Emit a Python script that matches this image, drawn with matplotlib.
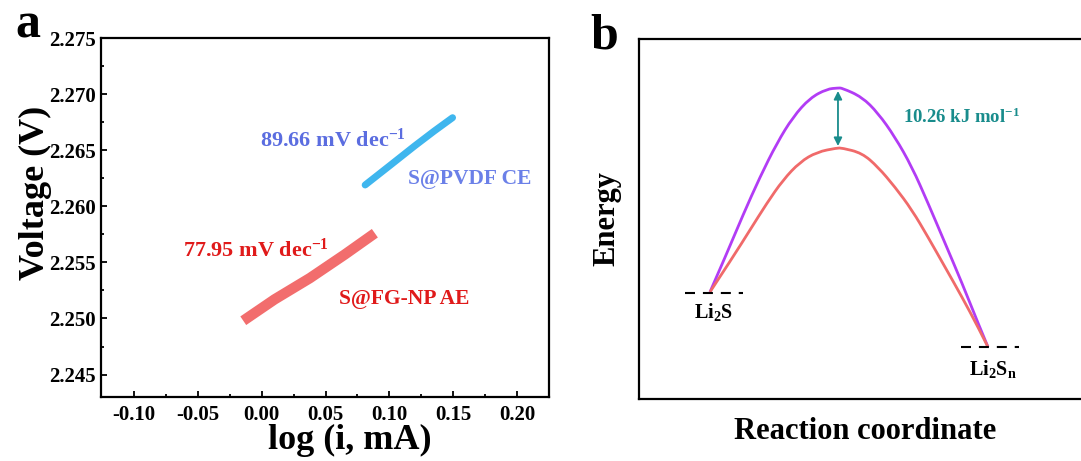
import matplotlib
matplotlib.use("Agg")
import matplotlib.pyplot as plt
from matplotlib.path import Path
from matplotlib.patches import PathPatch

plt.rcParams['font.family'] = ['Liberation Serif', 'DejaVu Serif']
plt.rcParams['font.weight'] = 'bold'
plt.rcParams['axes.labelweight'] = 'bold'
plt.rcParams['mathtext.fontset'] = 'custom'
plt.rcParams['mathtext.rm'] = 'Liberation Serif:bold'
plt.rcParams['mathtext.it'] = 'Liberation Serif:bold'
plt.rcParams['mathtext.bf'] = 'Liberation Serif:bold'
plt.rcParams['mathtext.default'] = 'rm'

# ---- panel a: Tafel lines ----
pvdf_x = [0.081, 0.100, 0.120, 0.135, 0.1495]
pvdf_v = [2.2619, 2.2636, 2.2654, 2.2667, 2.2679]
fgnp_x = [-0.0145, 0.010, 0.0377, 0.065, 0.0886]
fgnp_v = [2.2498, 2.2517, 2.2536, 2.2557, 2.2576]
a_xticks = [-0.10, -0.05, 0.00, 0.05, 0.10, 0.15, 0.20]
a_yticks = [2.245, 2.250, 2.255, 2.260, 2.265, 2.270, 2.275]

# ---- panel b: energy profile (arbitrary units) ----
barrier_hi_x = [71, 88, 104, 121, 138, 154, 171, 188, 199, 203, 223, 239, 256, 273, 289, 306, 323, 339, 349]
barrier_hi_y = [107, 146, 184, 222, 256, 282, 301, 310, 311, 311, 302, 286, 262, 232, 196, 156, 116, 76, 52]
barrier_lo_x = [71, 94, 111, 128, 144, 161, 178, 198, 203, 223, 239, 256, 273, 289, 306, 323, 339, 349]
barrier_lo_y = [107, 142, 169, 196, 219, 237, 247, 251, 251, 246, 232, 212, 189, 162, 132, 102, 72, 52]
li2s_level = 106
li2sn_level = 52
gap_x = 199
gap_top = 308
gap_bottom = 253


def smooth_path(xs, ys):
    # quadratic bezier through the read points (used as control points)
    pts = list(zip(xs, ys))
    verts = [pts[0]]
    codes = [Path.MOVETO]
    for i in range(1, len(pts) - 1):
        nxt = pts[i + 1]
        end = nxt if i == len(pts) - 2 else ((pts[i][0] + nxt[0]) / 2, (pts[i][1] + nxt[1]) / 2)
        verts += [pts[i], end]
        codes += [Path.CURVE3, Path.CURVE3]
    return Path(verts, codes)


fig = plt.figure(figsize=(10.81, 4.61), dpi=100)

ax1 = fig.add_axes([0.0934, 0.1388, 0.4144, 0.7787])
ax1.plot(pvdf_x, pvdf_v, color='#3fb6ee', lw=5, solid_capstyle='round')
ax1.plot(fgnp_x, fgnp_v, color='#f26d6d', lw=7.5, solid_capstyle='butt')
ax1.set_xlim(-0.126, 0.225)
ax1.set_ylim(2.243, 2.275)
ax1.set_xticks(a_xticks)
ax1.set_xticklabels([f'{t:.2f}' for t in a_xticks])
ax1.set_yticks(a_yticks)
ax1.set_yticklabels([f'{t:.3f}' for t in a_yticks])
ax1.set_xticks([-0.075, -0.025, 0.025, 0.075, 0.125, 0.175], minor=True)
ax1.set_yticks([2.2475, 2.2525, 2.2575, 2.2625, 2.2675, 2.2725], minor=True)
ax1.tick_params(which='both', direction='in', width=1.3, labelsize=15)
ax1.tick_params(which='major', length=4)
ax1.tick_params(which='minor', length=2.5)
ax1.tick_params(axis='x', pad=6)
ax1.tick_params(axis='y', pad=4)
for s in ax1.spines.values():
    s.set_linewidth(1.6)
ax1.set_xlabel('log (i, mA)', fontsize=26)
ax1.xaxis.set_label_coords(0.556, -0.075)
ax1.set_ylabel('Voltage (V)', fontsize=26)
ax1.yaxis.set_label_coords(-0.11, 0.57)

ax1.text(-0.0015, 2.26529, r'89.66 mV dec$^{-1}$', color='#5b6de0', fontsize=16, va='baseline')
ax1.text(0.1145, 2.26203, 'S@PVDF CE', color='#6b80e8', fontsize=15.5, va='baseline')
ax1.text(-0.0618, 2.25547, r'77.95 mV dec$^{-1}$', color='#e01a1a', fontsize=16, va='baseline')
ax1.text(0.0604, 2.25125, 'S@FG-NP AE', color='#e01a1a', fontsize=15.5, va='baseline')

ax2 = fig.add_axes([0.5911, 0.1345, 0.4172, 0.7809])
ax2.add_patch(PathPatch(smooth_path(barrier_hi_x, barrier_hi_y), fill=False, edgecolor='#b23cf5', lw=2))
ax2.add_patch(PathPatch(smooth_path(barrier_lo_x, barrier_lo_y), fill=False, edgecolor='#f06a6a', lw=2))
ax2.plot([46, 104], [li2s_level, li2s_level], color='black', lw=1.5, ls=(0, (4.8, 3.8)))
ax2.plot([322, 380], [li2sn_level, li2sn_level], color='black', lw=1.5, ls=(0, (4.8, 3.8)))
ax2.annotate('', xy=(gap_x, gap_top), xytext=(gap_x, gap_bottom),
             arrowprops=dict(arrowstyle='<|-|>', color='#198c8c', lw=1.3,
                             mutation_scale=12, shrinkA=0, shrinkB=0))
ax2.text(264, 276, r'10.26 kJ mol$^{-1}$', color='#198c8c', fontsize=13.5, va='baseline')
ax2.text(75, 81, r'Li$_2$S', fontsize=14.5, ha='center', va='baseline')
ax2.text(330, 24, r'Li$_2$S$_n$', fontsize=14.5, ha='left', va='baseline')
ax2.set_xlim(0, 451)
ax2.set_ylim(0, 360)
ax2.set_xticks([])
ax2.set_yticks([])
for s in ax2.spines.values():
    s.set_linewidth(1.6)
ax2.set_xlabel('Reaction coordinate', fontsize=22)
ax2.xaxis.set_label_coords(0.501, -0.05)
ax2.set_ylabel('Energy', fontsize=22)
ax2.yaxis.set_label_coords(-0.038, 0.5)

fig.text(0.0139, 0.9197, 'a', fontsize=36, va='baseline')
fig.text(0.546, 0.895, 'b', fontsize=36, va='baseline')

fig.savefig('out.png', dpi=100)
